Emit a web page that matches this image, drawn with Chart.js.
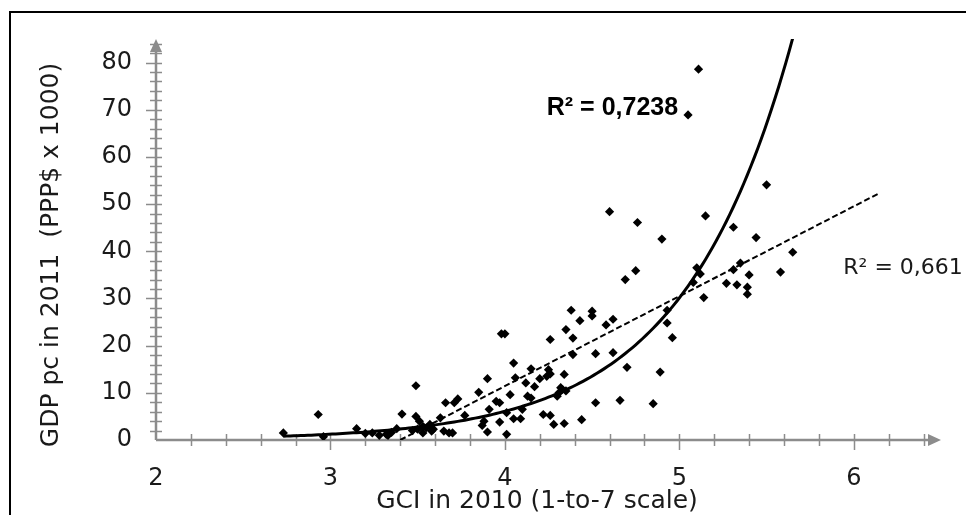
<!DOCTYPE html>
<html>
<head>
<meta charset="utf-8">
<script src="https://cdn.jsdelivr.net/npm/chart.js@4.4.1/dist/chart.umd.min.js"></script>
<style>
  html, body { margin: 0; padding: 0; background: #fff; }
  #chart { display: block; }
</style>
</head>
<body>
<canvas id="chart" width="966" height="515"></canvas>
<script>
// GCI 2010 score per country (x) and GDP per capita 2011, PPP$ x 1000 (y)
var gciScores = [
  2.73, 2.93, 2.96, 3.15, 3.20, 3.24, 3.28, 3.32, 3.33, 3.35, 3.38, 3.41, 3.49, 3.49, 3.47,
  3.51, 3.50, 3.53, 3.53, 3.55, 3.57, 3.58, 3.59, 3.63, 3.65, 3.66, 3.68, 3.70, 3.71, 3.73, 3.77,
  3.85, 3.87, 3.88, 3.90, 3.91, 3.90, 3.95, 3.97, 3.97, 3.98, 4.00, 4.01, 4.01, 4.03, 4.05, 4.05, 4.06, 4.09, 4.10,
  4.12, 4.13, 4.15, 4.15, 4.17, 4.20, 4.22, 4.25, 4.24, 4.26, 4.26, 4.26, 4.28, 4.30,
  4.31, 4.32, 4.34, 4.34, 4.33, 4.35, 4.35, 4.39, 4.43, 4.38, 4.39, 4.44,
  4.50, 4.50, 4.52, 4.52, 4.58, 4.60, 4.62, 4.62, 4.66, 4.69, 4.70, 4.75, 4.76,
  4.85, 4.89, 4.90, 4.93, 4.93, 4.96,
  5.05, 5.11, 5.08, 5.10, 5.12, 5.14, 5.15, 5.27, 5.31, 5.31, 5.33, 5.35, 5.39, 5.39, 5.40, 5.44, 5.50, 5.58, 5.65
];
var gdpValues = [
  1.5, 5.4, 0.7, 2.4, 1.4, 1.5, 1.0, 1.2, 1.0, 1.6, 2.4, 5.5, 11.5, 5.0, 2.0,
  4.0, 2.3, 2.9, 1.5, 2.6, 3.3, 1.9, 2.3, 4.7, 1.9, 7.9, 1.5, 1.5, 7.9, 8.7, 5.2,
  10.1, 3.1, 4.0, 13.0, 6.5, 1.7, 8.2, 7.9, 3.8, 22.5, 22.5, 5.8, 1.2, 9.6, 16.3, 4.5, 13.2, 4.5, 6.5,
  12.1, 9.3, 8.9, 15.1, 11.3, 13.0, 5.4, 14.9, 13.5, 14.0, 5.2, 21.3, 3.3, 9.3,
  10.0, 11.1, 13.9, 3.5, 10.7, 10.4, 23.4, 21.6, 25.3, 27.5, 18.1, 4.3,
  27.3, 26.3, 18.3, 7.9, 24.4, 48.4, 25.6, 18.5, 8.4, 34.0, 15.4, 35.9, 46.1,
  7.7, 14.4, 42.6, 27.5, 24.8, 21.7,
  68.9, 78.6, 33.4, 36.5, 35.2, 30.2, 47.5, 33.2, 45.1, 36.1, 32.9, 37.5, 32.4, 30.9, 35.0, 42.9, 54.1, 35.6, 39.8
];

// Excel-style trendlines
var expA = 0.0101, expB = 1.6;        // y = a * e^(b x)
var linSlope = 19.05, linIntercept = -64.77;
var expRange = [2.73, 5.7];
var linRange = [3.4, 6.15];

var xTicks = [2, 3, 4, 5, 6];
var yTicks = [0, 10, 20, 30, 40, 50, 60, 70, 80];
var r2Exp = 'R² = 0,7238';
var r2Lin = 'R² = 0,661';

var points = gciScores.map(function(x, i) { return { x: x, y: gdpValues[i] }; });

var expLine = [];
for (var gx = expRange[0]; gx <= expRange[1] + 1e-9; gx += 0.02) {
  expLine.push({ x: gx, y: expA * Math.exp(expB * gx) });
}
var linLine = linRange.map(function(x) { return { x: x, y: linSlope * x + linIntercept }; });

var axisGrey = '#8c8c8c';
var labelFont = '"DejaVu Sans", sans-serif';

var axesPlugin = {
  id: 'excelAxes',
  beforeDraw: function(chart) {
    var ctx = chart.ctx;
    ctx.save();
    ctx.fillStyle = '#fff';
    ctx.fillRect(0, 0, chart.width, chart.height);
    // outer frame (only left and top edges are visible)
    ctx.strokeStyle = '#000';
    ctx.lineWidth = 2;
    ctx.beginPath();
    ctx.moveTo(10, chart.height);
    ctx.lineTo(10, 12);
    ctx.lineTo(chart.width, 12);
    ctx.stroke();
    ctx.restore();
  },
  beforeDatasetsDraw: function(chart) {
    var ctx = chart.ctx;
    var xs = chart.scales.x, ys = chart.scales.y;
    var x0 = xs.getPixelForValue(xs.min), x1 = xs.getPixelForValue(xs.max);
    var y0 = ys.getPixelForValue(0), y1 = ys.getPixelForValue(ys.max);
    ctx.save();
    ctx.strokeStyle = axisGrey;
    ctx.fillStyle = axisGrey;
    ctx.lineWidth = 2.5;
    ctx.beginPath();
    ctx.moveTo(x0, y0); ctx.lineTo(x1 - 8, y0);
    ctx.moveTo(x0, y0); ctx.lineTo(x0, y1 + 8);
    ctx.stroke();

    ctx.lineWidth = 1.5;
    ctx.beginPath();
    // x minor + major ticks every 0.2
    for (var i = 1; i <= 22; i++) {
      var v = xs.min + i * 0.2;
      var px = Math.round(xs.getPixelForValue(v)) + 0.5;
      var major = Math.abs(v - Math.round(v)) < 1e-6;
      ctx.moveTo(px, y0 - 6);
      ctx.lineTo(px, y0 + (major ? 10 : 6));
    }
    // y ticks every 2
    for (var j = 1; j <= 42; j++) {
      var yv = j * 2;
      var py = Math.round(ys.getPixelForValue(yv)) + 0.5;
      var ymaj = yv % 10 === 0;
      ctx.moveTo(x0 - (ymaj ? 10 : 6), py);
      ctx.lineTo(x0 + 6, py);
    }
    ctx.stroke();

    // arrow heads
    ctx.beginPath();
    ctx.moveTo(x1, y0);
    ctx.lineTo(x1 - 13, y0 - 6);
    ctx.lineTo(x1 - 13, y0 + 6);
    ctx.closePath();
    ctx.moveTo(x0, y1);
    ctx.lineTo(x0 - 6, y1 + 13);
    ctx.lineTo(x0 + 6, y1 + 13);
    ctx.closePath();
    ctx.fill();
    ctx.restore();
  },
  afterDraw: function(chart) {
    var ctx = chart.ctx;
    var xs = chart.scales.x, ys = chart.scales.y;
    ctx.save();
    ctx.fillStyle = '#1a1a1a';
    ctx.textBaseline = 'middle';

    ctx.font = '25px ' + labelFont;
    ctx.textAlign = 'center';
    ctx.fillText('GCI in 2010 (1-to-7 scale)', 537, 501);

    ctx.save();
    ctx.translate(51, 255);
    ctx.rotate(-Math.PI / 2);
    ctx.font = '25px ' + labelFont;
    ctx.fillText('GDP pc in 2011  (PPP$ x 1000)', 0, 0);
    ctx.restore();

    ctx.fillStyle = '#000';
    ctx.textAlign = 'left';
    ctx.font = 'bold 25px "Liberation Sans", Arial, sans-serif';
    ctx.fillText(r2Exp, xs.getPixelForValue(4.24), ys.getPixelForValue(70.4));

    ctx.fillStyle = '#1a1a1a';
    ctx.font = '22px ' + labelFont;
    ctx.fillText(r2Lin, xs.getPixelForValue(5.94), ys.getPixelForValue(36.5));
    ctx.restore();
  }
};

new Chart(document.getElementById('chart'), {
  type: 'scatter',
  data: {
    datasets: [
      {
        label: 'countries',
        data: points,
        pointStyle: 'rectRot',
        pointRadius: 4.6,
        backgroundColor: '#000',
        borderColor: '#000',
        borderWidth: 0,
        order: 1
      },
      {
        label: 'exponential',
        data: expLine,
        showLine: true,
        pointRadius: 0,
        borderColor: '#000',
        borderWidth: 3,
        tension: 0,
        order: 2
      },
      {
        label: 'linear',
        data: linLine,
        showLine: true,
        pointRadius: 0,
        borderColor: '#000',
        borderWidth: 2,
        borderDash: [6, 3],
        order: 3
      }
    ]
  },
  options: {
    responsive: false,
    animation: false,
    devicePixelRatio: 1,
    layout: { padding: { left: 0, top: 39, right: 25, bottom: 0 } },
    plugins: { legend: { display: false }, tooltip: { enabled: false } },
    scales: {
      x: {
        type: 'linear',
        min: 2,
        max: 6.5,
        grid: { display: false, drawTicks: false },
        border: { display: false },
        afterBuildTicks: function(s) { s.ticks = xTicks.map(function(v) { return { value: v }; }); },
        ticks: { padding: 24, color: '#1a1a1a', font: { family: labelFont, size: 24 } },
        afterFit: function(s) { s.height = 75; }
      },
      y: {
        type: 'linear',
        min: 0,
        max: 85,
        grid: { display: false, drawTicks: false },
        border: { display: false },
        afterBuildTicks: function(s) { s.ticks = yTicks.map(function(v) { return { value: v }; }); },
        ticks: { padding: 24, color: '#1a1a1a', font: { family: labelFont, size: 24 } },
        afterFit: function(s) { s.width = 156; }
      }
    }
  },
  plugins: [axesPlugin]
});
</script>
</body>
</html>
